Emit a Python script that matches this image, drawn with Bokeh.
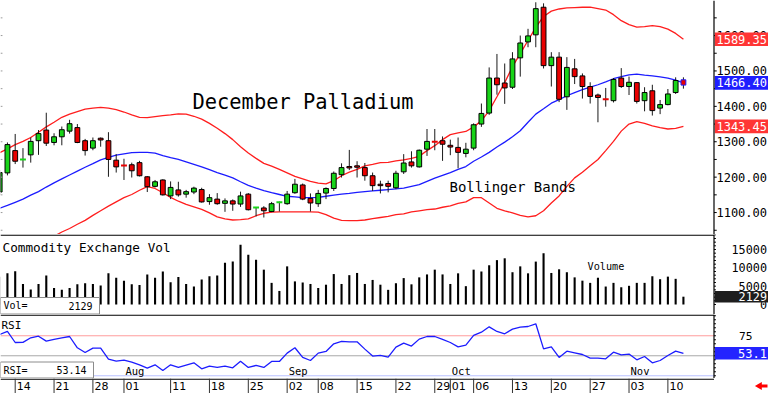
import pandas as pd
from bokeh.plotting import figure
from bokeh.layouts import column
from bokeh.models import Range1d, Span
from bokeh.core.properties import value
from bokeh.embed import file_html
from bokeh.resources import INLINE

# ---------------- data ----------------
trading_days = [d.strftime("%Y-%m-%d") for d in pd.bdate_range("2025-07-10", "2025-11-12")
                if d.strftime("%Y-%m-%d") != "2025-09-01"]

opens = [1158, 1212, 1275, 1248, 1263, 1303, 1333, 1298, 1314, 1330,
         1340, 1303, 1282, 1310, 1303, 1248, 1236, 1235, 1241, 1201,
         1174, 1192, 1147, 1164, 1152, 1158, 1165, 1131, 1138, 1126,
         1133, 1124, 1152, 1112, 1113, 1103, 1127, 1125, 1156, 1178,
         1140, 1125, 1155, 1168, 1207, 1230, 1232, 1227, 1204, 1180,
         1182, 1170, 1215, 1243, 1229, 1279, 1302, 1303, 1290, 1284,
         1267, 1282, 1350, 1381, 1480, 1466, 1454, 1537, 1582, 1602,
         1680, 1515, 1539, 1427, 1506, 1486, 1456, 1432, 1422, 1416,
         1480, 1456, 1467, 1416, 1444, 1395, 1405, 1439, 1475]
highs = [1220, 1298, 1322, 1282, 1312, 1333, 1382, 1324, 1343, 1362,
         1350, 1308, 1312, 1312, 1327, 1265, 1252, 1241, 1246, 1203,
         1192, 1194, 1188, 1187, 1164, 1173, 1170, 1152, 1155, 1140,
         1137, 1159, 1155, 1115, 1118, 1130, 1131, 1161, 1195, 1182,
         1154, 1164, 1171, 1216, 1239, 1277, 1245, 1240, 1213, 1190,
         1190, 1218, 1265, 1273, 1278, 1336, 1336, 1315, 1306, 1312,
         1297, 1352, 1408, 1510, 1548, 1521, 1553, 1600, 1619, 1694,
         1691, 1553, 1553, 1539, 1534, 1493, 1468, 1436, 1452, 1480,
         1508, 1484, 1468, 1454, 1461, 1418, 1449, 1482, 1482]
lows = [1150, 1205, 1237, 1227, 1241, 1263, 1288, 1290, 1290, 1323,
        1296, 1261, 1276, 1286, 1201, 1213, 1192, 1199, 1202, 1158,
        1171, 1148, 1138, 1145, 1142, 1152, 1128, 1122, 1122, 1102,
        1105, 1116, 1106, 1089, 1086, 1101, 1103, 1122, 1153, 1135,
        1103, 1116, 1138, 1161, 1199, 1220, 1199, 1190, 1161, 1154,
        1157, 1166, 1209, 1227, 1227, 1260, 1276, 1246, 1262, 1225,
        1256, 1276, 1342, 1376, 1433, 1407, 1449, 1484, 1567, 1567,
        1507, 1456, 1412, 1390, 1463, 1422, 1408, 1355, 1399, 1411,
        1452, 1432, 1408, 1386, 1374, 1378, 1403, 1435, 1450]
closes = [1213, 1292, 1245, 1250, 1301, 1323, 1296, 1314, 1334, 1351,
          1298, 1275, 1303, 1305, 1250, 1229, 1233, 1218, 1204, 1173,
          1187, 1150, 1171, 1150, 1159, 1169, 1130, 1142, 1125, 1133,
          1124, 1147, 1108, 1114, 1105, 1125, 1129, 1152, 1180, 1138,
          1127, 1154, 1168, 1211, 1227, 1226, 1228, 1204, 1176, 1176,
          1174, 1211, 1240, 1232, 1276, 1301, 1300, 1293, 1285, 1270,
          1279, 1348, 1380, 1480, 1461, 1452, 1534, 1579, 1599, 1676,
          1515, 1539, 1420, 1510, 1484, 1456, 1428, 1425, 1420, 1476,
          1456, 1468, 1414, 1439, 1388, 1405, 1435, 1473, 1460]
volume = [7600, 8500, 9100, 5600, 4100, 5600, 7900, 4500, 4000, 4500,
          5500, 5800, 5600, 5200, 8500, 7300, 6500, 5500, 5300, 8200,
          7300, 9000, 6100, 7500, 5600, 4900, 6800, 7700, 7900, 11400,
          11700, 16300, 13600, 12200, 9500, 5900, 3700, 10400, 6300, 6000,
          5600, 4500, 5400, 8300, 5600, 8000, 8600, 5600, 6700, 5400,
          4000, 5800, 7200, 5500, 7400, 8200, 9500, 8200, 5600, 8500,
          5000, 9500, 9000, 10700, 12100, 12600, 8800, 10400, 8500, 11700,
          14000, 8600, 9600, 8800, 7400, 6500, 5900, 7300, 4900, 5900,
          4700, 5100, 5900, 5900, 7700, 6900, 7600, 7000, 2129]
rsi = [76.6, 80.4, 66.6, 66.7, 72.5, 74.5, 68.3, 70.4, 72.5, 74.1,
       60.0, 54.1, 59.5, 59.5, 45.8, 43.3, 44.5, 42.0, 38.7, 34.5,
       38.7, 31.6, 38.7, 35.4, 38.3, 41.2, 33.7, 37.0, 35.4, 37.0,
       35.0, 43.3, 35.4, 37.9, 35.4, 42.9, 42.9, 53.3, 60.0, 47.9,
       44.1, 53.3, 55.4, 65.0, 67.9, 67.5, 67.5, 58.3, 49.6, 50.4,
       48.3, 60.8, 65.8, 62.1, 70.8, 74.1, 74.1, 70.4, 66.6, 61.2,
       63.3, 75.4, 79.5, 86.2, 80.4, 77.5, 83.3, 85.8, 86.6, 90.0,
       58.7, 61.2, 47.9, 55.8, 53.7, 51.6, 47.1, 47.1, 46.2, 54.5,
       51.2, 52.1, 45.0, 49.1, 41.2, 44.1, 50.4, 55.8, 53.14]
bb_upper = [1269, 1280, 1292, 1301, 1312, 1327, 1342, 1355, 1369, 1378,
            1385, 1392, 1395, 1397, 1395, 1391, 1384, 1376, 1369, 1368,
            1371, 1374, 1376, 1379, 1378, 1372, 1364, 1352, 1338, 1323,
            1306, 1286, 1268, 1253, 1239, 1231, 1222, 1212, 1202, 1195,
            1188, 1183, 1181, 1190, 1204, 1214, 1222, 1232, 1236, 1241,
            1242, 1246, 1249, 1253, 1259, 1275, 1289, 1306, 1320, 1325,
            1329, 1342, 1359, 1388, 1427, 1467, 1512, 1549, 1586, 1623,
            1654, 1669, 1675, 1678, 1679, 1680, 1680, 1676, 1672, 1659,
            1642, 1631, 1624, 1625, 1628, 1625, 1618, 1606, 1589.35]
bb_mid = [1112, 1120, 1129, 1138, 1149, 1159, 1172, 1184, 1195, 1206,
          1217, 1228, 1238, 1249, 1256, 1262, 1266, 1269, 1270, 1270,
          1268, 1261, 1255, 1250, 1243, 1236, 1229, 1221, 1213, 1206,
          1198, 1187, 1177, 1169, 1162, 1156, 1151, 1146, 1144, 1142,
          1142, 1143, 1146, 1149, 1152, 1154, 1157, 1159, 1161, 1163,
          1165, 1167, 1169, 1174, 1179, 1188, 1197, 1205, 1213, 1222,
          1230, 1245, 1257, 1270, 1285, 1299, 1314, 1331, 1355, 1378,
          1393, 1409, 1419, 1430, 1439, 1447, 1454, 1461, 1469, 1478,
          1484, 1489, 1491, 1488, 1486, 1483, 1480, 1474, 1466.40]
bb_lower = [949, 961, 972, 986, 997, 1009, 1020, 1033, 1045, 1055,
            1067, 1078, 1092, 1105, 1118, 1130, 1142, 1151, 1163, 1173,
            1168, 1156, 1143, 1132, 1123, 1116, 1109, 1099, 1088, 1082,
            1079, 1080, 1082, 1091, 1098, 1101, 1102, 1102, 1102, 1102,
            1102, 1101, 1094, 1084, 1078, 1077, 1077, 1079, 1083, 1086,
            1089, 1094, 1096, 1102, 1105, 1108, 1110, 1115, 1119, 1126,
            1130, 1142, 1142, 1127, 1112, 1105, 1099, 1092, 1088, 1091,
            1105, 1127, 1147, 1174, 1198, 1214, 1232, 1250, 1275, 1301,
            1330, 1350, 1357, 1352, 1345, 1340, 1336, 1338, 1343.45]

price_ticks = [1100, 1200, 1300, 1400, 1500, 1600]
vol_ticks = [0, 5000, 10000, 15000]
rsi_ticks = [75]
rsi_levels = [75, 50, 25]
rsi_level_colors = ["#ff9c9c", "#a8a8a8", "#b9c0ff"]
date_ticks = ["2025-07-14", "2025-07-21", "2025-07-28", "2025-08-01", "2025-08-11",
              "2025-08-18", "2025-08-25", "2025-09-02", "2025-09-08", "2025-09-15",
              "2025-09-22", "2025-09-29", "2025-10-01", "2025-10-06", "2025-10-13",
              "2025-10-20", "2025-10-27", "2025-11-03", "2025-11-10"]
month_starts = ["2025-08-01", "2025-09-02", "2025-10-01", "2025-11-03"]
month_labels = ["Aug", "Sep", "Oct", "Nov"]

title_text = "December Palladium"
bands_text = "Bollinger Bands"
vol_title = "Commodity Exchange Vol"

# ---------------- layout helpers ----------------
W = 768
HEIGHTS = [234, 80, 64, 15]
SP = 7.77            # pixels per bar


def bx(px):          # pixel column -> bar units
    return px / SP + 0.108


X0, X1 = bx(0), bx(W)
AX = bx(713.5)       # right axis line
LABEL_R = bx(766.5)
xr = Range1d(X0, X1)
x = list(range(len(trading_days)))
idx = {d: i for i, d in enumerate(trading_days)}

MONO = value("DejaVu Sans Mono")
SANS = value("DejaVu Sans")
GREEN = "#18d418"
RED = "#e80000"
BLUE = "#1c1cff"
BAND_RED = "#ff1e1e"


def mk(h, y0, y1):
    p = figure(width=W, height=h, x_range=xr, y_range=Range1d(y0, y1),
               output_backend="svg", toolbar_location=None,
               x_axis_type=None, y_axis_type=None,
               min_border=0, min_border_left=0, min_border_right=0,
               min_border_top=0, min_border_bottom=0)
    p.grid.visible = False
    p.outline_line_color = None
    p.background_fill_color = "white"
    p.border_fill_color = "white"
    return p


def px_units(p, h):
    return (p.y_range.end - p.y_range.start) / h


# ---------------- price panel ----------------
pp = mk(HEIGHTS[0], 1038, 1699)
up_ = px_units(pp, HEIGHTS[0])
pp.line(x, bb_upper, line_color=BAND_RED, line_width=1.3)
pp.line(x, bb_lower, line_color=BAND_RED, line_width=1.3)
pp.line(x, bb_mid, line_color=BLUE, line_width=1.3)

pp.segment(x0=x, y0=lows, x1=x, y1=highs, line_color="#1a1a1a", line_width=1)
body = [i for i in x if abs(closes[i] - opens[i]) > 3]
doji = [i for i in x if abs(closes[i] - opens[i]) <= 3]
pp.vbar(x=body, width=0.62,
        top=[max(opens[i], closes[i]) for i in body],
        bottom=[min(opens[i], closes[i]) for i in body],
        fill_color=[GREEN if closes[i] >= opens[i] else RED for i in body],
        line_color=[BLUE if i == x[-1] else "black" for i in body], line_width=1)
pp.segment(x0=[i - 0.38 for i in doji], y0=[closes[i] for i in doji],
           x1=[i + 0.38 for i in doji], y1=[closes[i] for i in doji],
           line_color=[GREEN if closes[i] >= opens[i] else RED for i in doji], line_width=2)

pp.text(x=[bx(192)], y=[1411], text=[title_text], text_font=MONO, text_font_size="20.4px",
        text_color="black", text_align="left", text_baseline="alphabetic")
pp.text(x=[bx(449)], y=[1171], text=[bands_text], text_font=MONO, text_font_size="14px",
        text_color="black", text_align="left", text_baseline="alphabetic")

# right price axis
pp.add_layout(Span(location=AX, dimension="height", line_color="black", line_width=1.2))
minor = list(range(1050, 1700, 50))
pp.segment(x0=[AX] * len(minor), y0=minor, x1=[AX + 0.35] * len(minor), y1=minor,
           line_color="black", line_width=1)
pp.segment(x0=[X0] * len(minor), y0=minor, x1=[X0 + 0.25] * len(minor), y1=minor,
           line_color="#9a9a9a", line_width=1)
pp.text(x=[LABEL_R] * len(price_ticks), y=price_ticks, text=[f"{v:.2f}" for v in price_ticks],
        text_font=MONO, text_font_size="12px", text_color="black",
        text_align="right", text_baseline="middle")
box_vals = [bb_upper[-1], bb_mid[-1], bb_lower[-1]]
box_cols = ["#ff3535", "#1e1eff", "#ff3535"]
half = 6.8 * up_
pp.quad(left=[AX + 0.1] * 3, right=[X1] * 3, top=[v + half for v in box_vals],
        bottom=[v - half for v in box_vals], fill_color=box_cols, line_color=None)
pp.text(x=[LABEL_R] * 3, y=box_vals, text=[f"{v:.2f}" for v in box_vals],
        text_font=MONO, text_font_size="12px", text_color="white",
        text_align="right", text_baseline="middle")

# ---------------- volume panel ----------------
pv = mk(HEIGHTS[1], -2727, 19089)
uv = px_units(pv, HEIGHTS[1])
pv.segment(x0=[X0], y0=[pv.y_range.end - 0.6 * uv], x1=[AX], y1=[pv.y_range.end - 0.6 * uv],
           line_color="black", line_width=1.3)
pv.vbar(x=x, width=0.27, top=volume, bottom=0, fill_color="black", line_color=None)
pv.text(x=[bx(2)], y=[15626], text=[vol_title], text_font=MONO,
        text_font_size="12.7px", text_color="black", text_align="left", text_baseline="alphabetic")
pv.text(x=[bx(587)], y=[10445], text=["Volume"], text_font=MONO, text_font_size="10.2px",
        text_color="black", text_align="left", text_baseline="alphabetic")
pv.quad(left=[X0], right=[bx(99)], top=[pv.y_range.start + 17 * uv],
        bottom=[pv.y_range.start + 0.5 * uv],
        fill_color="white", line_color="#8c8c8c", line_width=1)
vol_mid = pv.y_range.start + 8.7 * uv
pv.text(x=[bx(3)], y=[vol_mid], text=["Vol="], text_font=MONO, text_font_size="10px",
        text_color="black", text_align="left", text_baseline="middle")
pv.text(x=[bx(92)], y=[vol_mid], text=[f"{volume[-1]}"], text_font=MONO,
        text_font_size="10px", text_color="black", text_align="right", text_baseline="middle")
pv.add_layout(Span(location=AX, dimension="height", line_color="black", line_width=1.2))
vminor = list(range(0, 19001, 1000))
pv.segment(x0=[AX] * len(vminor), y0=vminor, x1=[AX + 0.25] * len(vminor), y1=vminor,
           line_color="black", line_width=1)
pv.text(x=[LABEL_R] * len(vol_ticks), y=vol_ticks, text=[str(v) for v in vol_ticks],
        text_font=MONO, text_font_size="11.8px", text_color="black",
        text_align="right", text_baseline="middle")
vhalf = 5.8 * uv
pv.quad(left=[AX + 0.1], right=[X1], top=[volume[-1] + vhalf], bottom=[volume[-1] - vhalf],
        fill_color="#1e1e1e", line_color=None)
pv.text(x=[LABEL_R], y=[volume[-1]], text=[f"{volume[-1]}"], text_font=MONO,
        text_font_size="11.8px", text_color="white", text_align="right", text_baseline="middle")

# ---------------- RSI panel ----------------
pr = mk(HEIGHTS[2], 21.6, 101.6)
ur = px_units(pr, HEIGHTS[2])
pr.segment(x0=[X0], y0=[pr.y_range.end - 0.6 * ur], x1=[AX], y1=[pr.y_range.end - 0.6 * ur],
           line_color="black", line_width=1.3)
pr.segment(x0=[X0] * 3, y0=rsi_levels, x1=[AX] * 3, y1=rsi_levels,
           line_color=rsi_level_colors, line_width=1)
pr.line(x, rsi, line_color=BLUE, line_width=1.3)
pr.text(x=[bx(1)], y=[87.5], text=["RSI"], text_font=MONO,
        text_font_size="11px", text_color="black", text_align="left", text_baseline="alphabetic")
pr.text(x=[idx[d] + 0.19 for d in month_starts], y=[pr.y_range.start + 8.0 * ur] * len(month_labels),
        text=month_labels, text_font=MONO, text_font_size="10.5px", text_color="black",
        text_align="left", text_baseline="middle")
pr.quad(left=[X0], right=[bx(93)], top=[pr.y_range.start + 16.5 * ur],
        bottom=[pr.y_range.start + 0.5 * ur],
        fill_color="white", line_color="#8c8c8c", line_width=1)
rsi_mid = pr.y_range.start + 8.3 * ur
pr.text(x=[bx(3)], y=[rsi_mid], text=["RSI="], text_font=MONO, text_font_size="10px",
        text_color="black", text_align="left", text_baseline="middle")
pr.text(x=[bx(86)], y=[rsi_mid], text=[f"{rsi[-1]:.2f}"], text_font=MONO,
        text_font_size="10px", text_color="black", text_align="right", text_baseline="middle")
pr.add_layout(Span(location=AX, dimension="height", line_color="black", line_width=1.2))
rminor = list(range(25, 101, 5))
pr.segment(x0=[AX] * len(rminor), y0=rminor, x1=[AX + 0.25] * len(rminor), y1=rminor,
           line_color="black", line_width=1)
pr.text(x=[bx(752)], y=rsi_ticks, text=[str(v) for v in rsi_ticks], text_font=MONO,
        text_font_size="11.2px", text_color="black", text_align="right", text_baseline="middle")
rhalf = 6.3 * ur
pr.quad(left=[AX + 0.1], right=[X1], top=[rsi[-1] + rhalf], bottom=[rsi[-1] - rhalf],
        fill_color="#2424ff", line_color=None)
pr.text(x=[LABEL_R], y=[rsi[-1]], text=[f"{rsi[-1]:.1f}"], text_font=MONO,
        text_font_size="12px", text_color="white", text_align="right", text_baseline="middle")

# ---------------- date axis ----------------
pd_ = mk(HEIGHTS[3], 0, 1)
tick_x = [idx[d] for d in date_ticks]
pd_.segment(x0=[X0], y0=[0.96], x1=[AX], y1=[0.96], line_color="black", line_width=1.3)
pd_.segment(x0=tick_x, y0=[0] * len(tick_x), x1=tick_x, y1=[1] * len(tick_x),
            line_color="#333333", line_width=1)
pd_.text(x=[t + 0.2 for t in tick_x], y=[0.47] * len(tick_x),
         text=[pd.Timestamp(d).strftime("%d") for d in date_ticks],
         text_font=SANS, text_font_size="11px", text_color="black",
         text_align="left", text_baseline="middle")
pd_.scatter(x=[bx(759)], y=[0.5], marker="triangle", size=8, angle=1.5708,
            fill_color="#ff0000", line_color=None)
pd_.segment(x0=[bx(759)], y0=[0.5], x1=[bx(767)], y1=[0.5], line_color="#ff0000", line_width=3)

layout = column(pp, pv, pr, pd_, spacing=0)
open("out.html", "w").write(file_html(layout, INLINE))
